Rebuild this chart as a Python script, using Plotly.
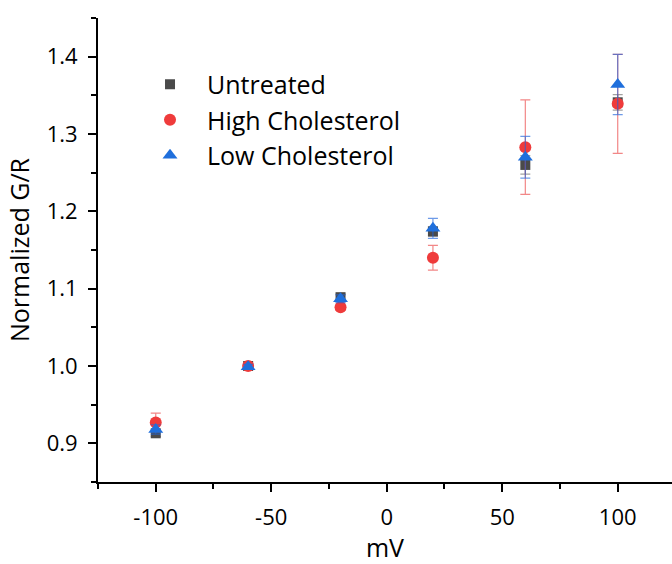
import plotly.graph_objects as go

mv = [-100, -60, -20, 20, 60, 100]

untreated = [0.913, 1.000, 1.089, 1.174, 1.260, 1.341]
untreated_err = [0.004, 0.003, 0.004, 0.006, 0.012, 0.010]

high = [0.927, 1.000, 1.076, 1.140, 1.283, 1.339]
high_err = [0.012, 0.004, 0.004, 0.016, 0.061, 0.064]

low = [0.918, 0.999, 1.087, 1.178, 1.270, 1.364]
low_err = [0.006, 0.003, 0.005, 0.013, 0.027, 0.039]

FONT = "Open Sans"

fig = go.Figure()
fig.add_trace(go.Scatter(
    x=mv, y=untreated, mode="markers", name="Untreated",
    marker=dict(symbol="square", size=10, color="#4a4a4a"),
    error_y=dict(type="data", array=untreated_err, visible=True,
                 color="rgba(70,70,70,0.5)", thickness=1.2, width=5),
))
fig.add_trace(go.Scatter(
    x=mv, y=high, mode="markers", name="High Cholesterol",
    marker=dict(symbol="circle", size=12, color="#ef3b3b"),
    error_y=dict(type="data", array=high_err, visible=True,
                 color="rgba(235,70,70,0.65)", thickness=1.2, width=5),
))
fig.add_trace(go.Scatter(
    x=mv, y=low, mode="markers", name="Low Cholesterol",
    marker=dict(symbol="triangle-up", size=13, color="#1f6fdc"),
    error_y=dict(type="data", array=low_err, visible=True,
                 color="rgba(31,100,220,0.65)", thickness=1.2, width=5),
))

axis_common = dict(
    showline=True, linecolor="black", linewidth=2,
    ticks="outside", ticklen=8, tickwidth=2, tickcolor="black",
    showgrid=False, zeroline=False, automargin=False,
    tickfont=dict(family=FONT, size=22, color="black"),
    minor=dict(ticks="outside", ticklen=5, tickwidth=2, tickcolor="black"),
)

fig.update_xaxes(
    range=[-125, 123.5], tickvals=[-100, -50, 0, 50, 100],
    ticktext=["-100", "-50", "0", "50", "100"],
    minor_dtick=25, minor_tick0=0,
    ticklabelstandoff=7,
    title=dict(text="mV", font=dict(family=FONT, size=25, color="black"), standoff=24),
    **axis_common,
)
fig.update_yaxes(
    range=[0.85, 1.45], tickvals=[0.9, 1.0, 1.1, 1.2, 1.3, 1.4],
    ticktext=["0.9", "1.0", "1.1", "1.2", "1.3", "1.4"],
    minor_dtick=0.05, minor_tick0=0.85,
    ticklabelstandoff=6,
    title=dict(text="Normalized G/R", font=dict(family=FONT, size=25, color="black"), standoff=10),
    **axis_common,
)

fig.update_layout(
    width=672, height=564,
    margin=dict(l=98, r=0, t=18, b=82),
    paper_bgcolor="white", plot_bgcolor="white",
    showlegend=True,
    legend=dict(
        x=0.061, y=0.906, xanchor="left", yanchor="top",
        font=dict(family=FONT, size=25, color="black"),
        bgcolor="rgba(255,255,255,0)", borderwidth=0,
        itemwidth=64, tracegroupgap=0,
    ),
)

fig.write_html("out.html")
